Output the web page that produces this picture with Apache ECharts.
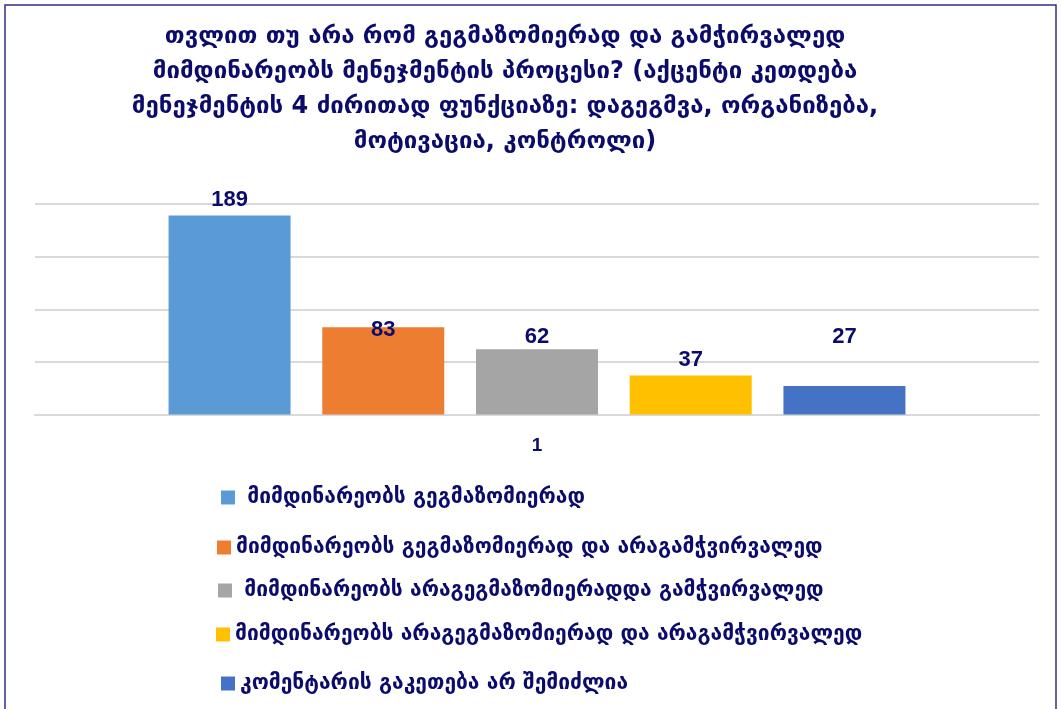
<!DOCTYPE html>
<html>
<head>
<meta charset="utf-8">
<script src="https://cdn.jsdelivr.net/npm/echarts@6/dist/echarts.min.js"></script>
<style>
  html, body { margin: 0; padding: 0; background: #ffffff; }
  #chart { width: 1061px; height: 709px; }
</style>
</head>
<body>
<div id="chart"></div>
<script>
// Survey question (title) and answer options
const titleLines = [
  'თვლით თუ არა რომ გეგმაზომიერად და გამჭირვალედ',
  'მიმდინარეობს მენეჯმენტის პროცესი? (აქცენტი კეთდება',
  'მენეჯმენტის 4 ძირითად ფუნქციაზე: დაგეგმვა, ორგანიზება,',
  'მოტივაცია, კონტროლი)'
];
const categories = ['1'];
const seriesNames = [
  ' მიმდინარეობს გეგმაზომიერად',
  'მიმდინარეობს გეგმაზომიერად და არაგამჭვირვალედ',
  ' მიმდინარეობს არაგეგმაზომიერადდა გამჭვირვალედ',
  'მიმდინარეობს არაგეგმაზომიერად და არაგამჭვირვალედ',
  'კომენტარის გაკეთება არ შემიძლია'
];
const seriesValues = [189, 83, 62, 37, 27];
const yTicks = [0, 50, 100, 150, 200];

// Styling
const colors = ['#5B9BD5', '#ED7D31', '#A5A5A5', '#FFC000', '#4472C4'];
const labelDistances = [5, -14, 1, 5, 38];
const legendTops = [482, 532, 575, 619, 668];
const legendLefts = [216, 212, 213, 211, 216];
const navy = '#0b0b6b';
const geoFont = '"DejaVu Sans", sans-serif';

const chart = echarts.init(document.getElementById('chart'));

const series = seriesNames.map((name, i) => ({
  name: name,
  type: 'bar',
  barWidth: 122,
  barGap: '26%',
  itemStyle: { color: colors[i] },
  label: {
    show: true,
    position: 'top',
    distance: labelDistances[i],
    color: navy,
    fontWeight: 'bold',
    fontSize: 22,
    fontFamily: '"Liberation Sans", Arial, sans-serif'
  },
  data: [seriesValues[i]]
}));

const legends = seriesNames.map((name, i) => ({
  data: [name],
  orient: 'vertical',
  left: legendLefts[i],
  top: legendTops[i],
  icon: 'rect',
  itemWidth: 14,
  itemHeight: 14,
  itemGap: 0,
  textStyle: {
    color: navy,
    fontWeight: 'bold',
    fontSize: 21,
    fontFamily: geoFont
  }
}));

chart.setOption({
  animation: false,
  backgroundColor: '#ffffff',
  title: {
    text: titleLines.join('\n'),
    left: 500,
    top: 14,
    textAlign: 'center',
    textStyle: {
      color: navy,
      fontWeight: 'bold',
      fontSize: 24,
      lineHeight: 35,
      fontFamily: geoFont
    }
  },
  legend: legends,
  grid: { left: 35, right: 22, top: 204, bottom: 294.5 },
  xAxis: {
    type: 'category',
    data: categories,
    axisLine: { lineStyle: { color: '#d9d9d9', width: 2 } },
    axisTick: { show: false },
    axisLabel: {
      color: navy,
      fontWeight: 'bold',
      fontSize: 19,
      margin: 22,
      fontFamily: '"Liberation Sans", Arial, sans-serif'
    }
  },
  yAxis: {
    type: 'value',
    min: yTicks[0],
    max: yTicks[yTicks.length - 1],
    interval: yTicks[1] - yTicks[0],
    axisLabel: { show: false },
    axisLine: { show: false },
    axisTick: { show: false },
    splitLine: { lineStyle: { color: '#d9d9d9', width: 2 } }
  },
  graphic: [{
    type: 'rect',
    shape: { x: 5, y: 5, width: 1051, height: 720 },
    style: { fill: 'none', stroke: '#2e2e85', lineWidth: 1.5 },
    silent: true,
    z: 100
  }],
  series: series
});
</script>
</body>
</html>
